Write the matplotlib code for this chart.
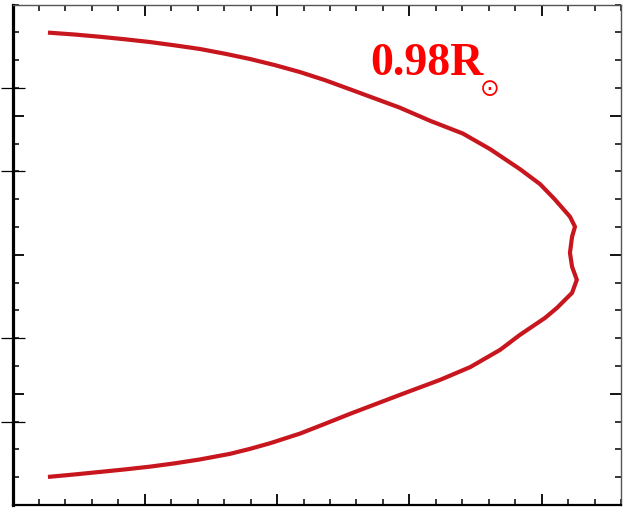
import matplotlib

matplotlib.use("Agg")
import matplotlib.pyplot as plt
from matplotlib.ticker import MultipleLocator

# contour traced at 0.98 R_sun, upper arm first then round the nose to the lower arm
contour_x = [-3.66, -2.64, -1.69, -0.75, 0.20, 1.14, 2.09, 3.03, 3.98, 4.92,
             5.87, 6.81, 7.76, 8.70, 9.64, 10.78, 12.02, 13.05, 14.18, 14.94,
             15.50, 16.07, 16.26, 16.15, 16.07, 16.15, 16.33, 16.15, 15.58, 15.13,
             14.18, 13.43, 12.30, 11.16, 9.64, 8.70, 7.76, 6.81, 5.87, 4.73,
             3.98, 3.22, 2.09, 1.14, 0.20, -0.75, -1.69, -2.64, -3.66]
contour_y = [7.99, 7.92, 7.84, 7.75, 7.65, 7.53, 7.40, 7.23, 7.04, 6.82,
             6.57, 6.28, 5.95, 5.62, 5.29, 4.82, 4.36, 3.80, 3.08, 2.54,
             1.99, 1.37, 1.01, 0.65, 0.07, -0.43, -0.90, -1.37, -1.91, -2.27,
             -2.88, -3.42, -4.04, -4.50, -5.04, -5.38, -5.72, -6.08, -6.43, -6.78,
             -6.98, -7.16, -7.36, -7.50, -7.62, -7.72, -7.81, -7.90, -7.99]

label = "0.98R"
marker_ticks = [-6, -3, 3, 6]

fig = plt.figure(figsize=(6.23, 5.08), dpi=100)
ax = fig.add_axes([0.0201, 0.0059, 0.9767, 0.9852])

ax.plot(contour_x, contour_y, color="#c8161e", lw=3.0,
        solid_capstyle="butt", solid_joinstyle="round")

ax.set_xlim(-5, 18)
ax.set_ylim(-9, 9)

ax.xaxis.set_major_locator(MultipleLocator(5))
ax.xaxis.set_minor_locator(MultipleLocator(1))
ax.yaxis.set_major_locator(MultipleLocator(5))
ax.yaxis.set_minor_locator(MultipleLocator(1))

ax.tick_params(which="both", direction="in", top=True, right=True,
               labelbottom=False, labelleft=False, color="black")
ax.tick_params(which="major", length=8, width=1.3)
ax.tick_params(which="minor", length=4, width=1.1)

ax.spines["left"].set_linewidth(2.3)
ax.spines["bottom"].set_linewidth(1.6)
ax.spines["top"].set_linewidth(1.0)
ax.spines["top"].set_color("#555555")
ax.spines["right"].set_linewidth(1.0)
ax.spines["right"].set_color("#555555")

# extra marks crossing the left frame
sec = ax.secondary_yaxis("left")
sec.set_yticks(marker_ticks)
sec.tick_params(direction="inout", length=17, width=0.9, labelleft=False)
sec.spines["left"].set_visible(False)

ax.text(8.51, 6.47, label, color="red", fontsize=33, fontweight="bold",
        family="Liberation Serif", ha="left", va="baseline")
ax.text(13.05, 5.97, "\u2299", color="red", fontsize=17,
        family="DejaVu Sans", ha="center", va="center")

fig.savefig("out.png", dpi=100)
